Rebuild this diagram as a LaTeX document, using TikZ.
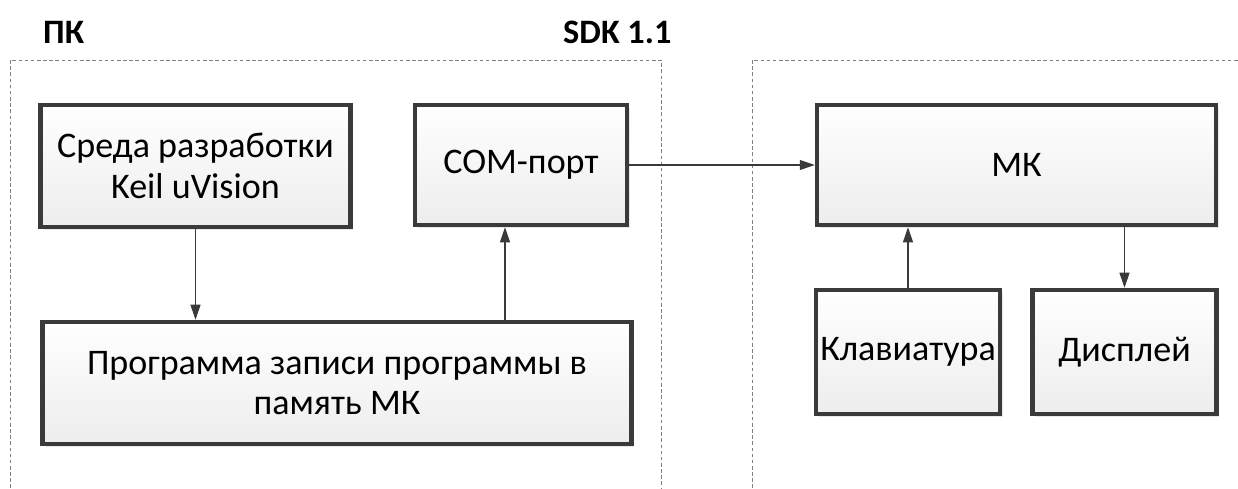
\documentclass[tikz,border=0pt]{standalone}
\usepackage{fontspec}
\setmainfont{Carlito}
\usepackage{xcolor}
\usetikzlibrary{positioning, arrows.meta, shadows}

\definecolor{boxline}{HTML}{3A3A3A}
\definecolor{boxfill}{HTML}{EDEDED}

\begin{document}
\begin{tikzpicture}[x=0.02cm, y=-0.02cm,
    block/.style={draw=boxline, line width=2.6pt, rectangle,
        top color=white, bottom color=boxfill,
        drop shadow={opacity=0.18, shadow xshift=0.06cm, shadow yshift=-0.06cm},
        align=center, font=\fontsize{20.5}{23}\selectfont, inner sep=2pt},
    arr/.style={draw=boxline, line width=0.6pt, -{Triangle[length=0.3cm, width=0.2cm]}},
    frame/.style={draw=gray, line width=0.5pt, dash pattern=on 2pt off 1.5pt},
    title/.style={font=\fontsize{19.5}{22}\selectfont\bfseries, anchor=west}]
    \useasboundingbox (0,0) rectangle (1238,488);

    % Draw frames
    \draw[frame] (10,488) |- (661,60) -- (661,488);
    \draw[frame] (752,488) |- (1238,60);
    \node[title] (pc) at (37,32) {ПК};
    \node[title] (sdk) at (557,32) {SDK 1.1};

    % Draw blocks
    \node[block, minimum width=6.2cm, minimum height=2.44cm] (sreda) at (195.5,166) {Среда разработки\\Keil uVision};
    \node[block, minimum width=4.24cm, minimum height=2.4cm] (com) at (521,165) {COM-порт};
    \node[block, minimum width=11.78cm, minimum height=2.44cm] (prog) at (337,383) {Программа записи программы в\\память МК};
    \node[block, minimum width=7.98cm, minimum height=2.4cm] (mk) at (1016.5,165) {МК};
    \node[block, minimum width=3.68cm, minimum height=2.48cm] (kbd) at (908,352) {Клавиатура};
    \node[block, minimum width=3.68cm, minimum height=2.48cm] (disp) at (1124.5,352) {Дисплей};

    % Draw connections
    \draw[arr] (sreda) -- (sreda |- prog.north);
    \draw[arr] ([xshift=-0.32cm]com.south |- prog.north) -- ([xshift=-0.32cm]com.south);
    \draw[arr] (com) -- (mk);
    \draw[arr] (kbd) -- (kbd |- mk.south);
    \draw[arr] (disp |- mk.south) -- (disp);
\end{tikzpicture}
\end{document}
